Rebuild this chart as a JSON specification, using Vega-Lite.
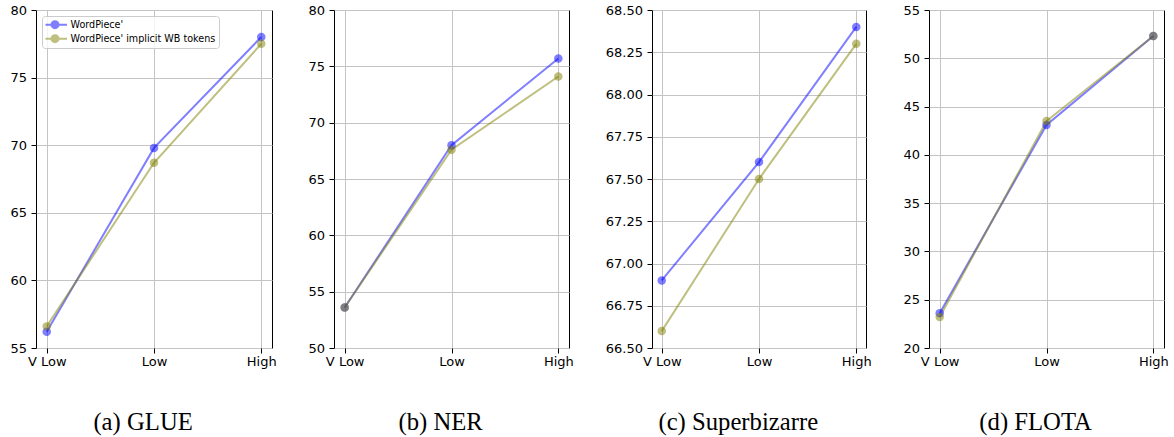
{
 "$schema": "https://vega.github.io/schema/vega-lite/v6.json",
 "padding": {"left": 9, "top": 3, "right": 0, "bottom": 0},
 "background": "white",
 "data": {"values": [
  {"panel": "GLUE", "level": "V Low", "series": "WordPiece'", "value": 56.2},
  {"panel": "GLUE", "level": "Low", "series": "WordPiece'", "value": 69.8},
  {"panel": "GLUE", "level": "High", "series": "WordPiece'", "value": 78.0},
  {"panel": "GLUE", "level": "V Low", "series": "WordPiece' implicit WB tokens", "value": 56.6},
  {"panel": "GLUE", "level": "Low", "series": "WordPiece' implicit WB tokens", "value": 68.7},
  {"panel": "GLUE", "level": "High", "series": "WordPiece' implicit WB tokens", "value": 77.5},
  {"panel": "NER", "level": "V Low", "series": "WordPiece'", "value": 53.6},
  {"panel": "NER", "level": "Low", "series": "WordPiece'", "value": 68.0},
  {"panel": "NER", "level": "High", "series": "WordPiece'", "value": 75.7},
  {"panel": "NER", "level": "V Low", "series": "WordPiece' implicit WB tokens", "value": 53.6},
  {"panel": "NER", "level": "Low", "series": "WordPiece' implicit WB tokens", "value": 67.6},
  {"panel": "NER", "level": "High", "series": "WordPiece' implicit WB tokens", "value": 74.1},
  {"panel": "Superbizarre", "level": "V Low", "series": "WordPiece'", "value": 66.9},
  {"panel": "Superbizarre", "level": "Low", "series": "WordPiece'", "value": 67.6},
  {"panel": "Superbizarre", "level": "High", "series": "WordPiece'", "value": 68.4},
  {"panel": "Superbizarre", "level": "V Low", "series": "WordPiece' implicit WB tokens", "value": 66.6},
  {"panel": "Superbizarre", "level": "Low", "series": "WordPiece' implicit WB tokens", "value": 67.5},
  {"panel": "Superbizarre", "level": "High", "series": "WordPiece' implicit WB tokens", "value": 68.3},
  {"panel": "FLOTA", "level": "V Low", "series": "WordPiece'", "value": 23.6},
  {"panel": "FLOTA", "level": "Low", "series": "WordPiece'", "value": 43.1},
  {"panel": "FLOTA", "level": "High", "series": "WordPiece'", "value": 52.3},
  {"panel": "FLOTA", "level": "V Low", "series": "WordPiece' implicit WB tokens", "value": 23.2},
  {"panel": "FLOTA", "level": "Low", "series": "WordPiece' implicit WB tokens", "value": 43.5},
  {"panel": "FLOTA", "level": "High", "series": "WordPiece' implicit WB tokens", "value": 52.3}
 ]},
 "spacing": 30,
 "hconcat": [
  {
   "width": 236, "height": 338,
   "title": {"text": "(a) GLUE"},
   "transform": [{"filter": "datum.panel === 'GLUE'"}],
   "encoding": {
    "x": {"field": "level", "type": "ordinal", "sort": ["V Low", "Low", "High"], "scale": {"type": "point", "padding": 0.1}, "axis": {"title": null}},
    "y": {"field": "value", "type": "quantitative", "scale": {"domain": [55, 80], "zero": false, "nice": false}, "axis": {"title": null, "values": [55, 60, 65, 70, 75, 80]}},
    "color": {"field": "series", "type": "nominal", "scale": {"domain": ["WordPiece'", "WordPiece' implicit WB tokens"], "range": ["#0000ff", "#808000"]},
     "legend": {"title": null, "orient": "none", "legendX": 6, "legendY": 6, "symbolType": "M-1.78,0L3.55,0M0.11,0a0.78,0.78 0 1,0 1.56,0a0.78,0.78 0 1,0 -1.56,0M0.49,0a0.4,0.4 0 1,0 0.8,0a0.4,0.4 0 1,0 -0.8,0M0.82,0a0.07,0.07 0 1,0 0.14,0a0.07,0.07 0 1,0 -0.14,0", "symbolSize": 81, "symbolStrokeWidth": 2, "symbolOpacity": 0.5, "labelFont": "DejaVu Sans", "labelFontSize": 9.6, "labelColor": "black", "labelOffset": 14, "padding": 3.5, "rowPadding": 3, "clipHeight": 10.3, "strokeColor": "#cccccc", "fillColor": "rgba(255,255,255,0.8)", "cornerRadius": 3}}
   },
   "layer": [
    {"mark": {"type": "line", "strokeWidth": 2, "opacity": 0.5}},
    {"mark": {"type": "point", "filled": true, "size": 72, "opacity": 0.5}}
   ]
  },
  {
   "width": 235, "height": 338,
   "title": {"text": "(b) NER"},
   "transform": [{"filter": "datum.panel === 'NER'"}],
   "encoding": {
    "x": {"field": "level", "type": "ordinal", "sort": ["V Low", "Low", "High"], "scale": {"type": "point", "padding": 0.1}, "axis": {"title": null}},
    "y": {"field": "value", "type": "quantitative", "scale": {"domain": [50, 80], "zero": false, "nice": false}, "axis": {"title": null, "values": [50, 55, 60, 65, 70, 75, 80]}},
    "color": {"field": "series", "type": "nominal", "scale": {"domain": ["WordPiece'", "WordPiece' implicit WB tokens"], "range": ["#0000ff", "#808000"]},
     "legend": {"title": null, "orient": "none", "legendX": 6, "legendY": 6, "symbolType": "M-1.78,0L3.55,0M0.11,0a0.78,0.78 0 1,0 1.56,0a0.78,0.78 0 1,0 -1.56,0M0.49,0a0.4,0.4 0 1,0 0.8,0a0.4,0.4 0 1,0 -0.8,0M0.82,0a0.07,0.07 0 1,0 0.14,0a0.07,0.07 0 1,0 -0.14,0", "symbolSize": 81, "symbolStrokeWidth": 2, "symbolOpacity": 0.5, "labelFont": "DejaVu Sans", "labelFontSize": 9.6, "labelColor": "black", "labelOffset": 14, "padding": 3.5, "rowPadding": 3, "clipHeight": 10.3, "strokeColor": "#cccccc", "fillColor": "rgba(255,255,255,0.8)", "cornerRadius": 3}}
   },
   "layer": [
    {"mark": {"type": "line", "strokeWidth": 2, "opacity": 0.5}},
    {"mark": {"type": "point", "filled": true, "size": 72, "opacity": 0.5}}
   ]
  },
  {
   "width": 214, "height": 338,
   "title": {"text": "(c) Superbizarre"},
   "transform": [{"filter": "datum.panel === 'Superbizarre'"}],
   "encoding": {
    "x": {"field": "level", "type": "ordinal", "sort": ["V Low", "Low", "High"], "scale": {"type": "point", "padding": 0.1}, "axis": {"title": null}},
    "y": {"field": "value", "type": "quantitative", "scale": {"domain": [66.5, 68.5], "zero": false, "nice": false}, "axis": {"title": null, "format": ".2f", "values": [66.5, 66.75, 67, 67.25, 67.5, 67.75, 68, 68.25, 68.5]}},
    "color": {"field": "series", "type": "nominal", "scale": {"domain": ["WordPiece'", "WordPiece' implicit WB tokens"], "range": ["#0000ff", "#808000"]},
     "legend": {"title": null, "orient": "none", "legendX": 6, "legendY": 6, "symbolType": "M-1.78,0L3.55,0M0.11,0a0.78,0.78 0 1,0 1.56,0a0.78,0.78 0 1,0 -1.56,0M0.49,0a0.4,0.4 0 1,0 0.8,0a0.4,0.4 0 1,0 -0.8,0M0.82,0a0.07,0.07 0 1,0 0.14,0a0.07,0.07 0 1,0 -0.14,0", "symbolSize": 81, "symbolStrokeWidth": 2, "symbolOpacity": 0.5, "labelFont": "DejaVu Sans", "labelFontSize": 9.6, "labelColor": "black", "labelOffset": 14, "padding": 3.5, "rowPadding": 3, "clipHeight": 10.3, "strokeColor": "#cccccc", "fillColor": "rgba(255,255,255,0.8)", "cornerRadius": 3}}
   },
   "layer": [
    {"mark": {"type": "line", "strokeWidth": 2, "opacity": 0.5}},
    {"mark": {"type": "point", "filled": true, "size": 72, "opacity": 0.5}}
   ]
  },
  {
   "width": 235, "height": 338,
   "title": {"text": "(d) FLOTA"},
   "transform": [{"filter": "datum.panel === 'FLOTA'"}],
   "encoding": {
    "x": {"field": "level", "type": "ordinal", "sort": ["V Low", "Low", "High"], "scale": {"type": "point", "padding": 0.1}, "axis": {"title": null}},
    "y": {"field": "value", "type": "quantitative", "scale": {"domain": [20, 55], "zero": false, "nice": false}, "axis": {"title": null, "values": [20, 25, 30, 35, 40, 45, 50, 55]}},
    "color": {"field": "series", "type": "nominal", "scale": {"domain": ["WordPiece'", "WordPiece' implicit WB tokens"], "range": ["#0000ff", "#808000"]},
     "legend": {"title": null, "orient": "none", "legendX": 6, "legendY": 6, "symbolType": "M-1.78,0L3.55,0M0.11,0a0.78,0.78 0 1,0 1.56,0a0.78,0.78 0 1,0 -1.56,0M0.49,0a0.4,0.4 0 1,0 0.8,0a0.4,0.4 0 1,0 -0.8,0M0.82,0a0.07,0.07 0 1,0 0.14,0a0.07,0.07 0 1,0 -0.14,0", "symbolSize": 81, "symbolStrokeWidth": 2, "symbolOpacity": 0.5, "labelFont": "DejaVu Sans", "labelFontSize": 9.6, "labelColor": "black", "labelOffset": 14, "padding": 3.5, "rowPadding": 3, "clipHeight": 10.3, "strokeColor": "#cccccc", "fillColor": "rgba(255,255,255,0.8)", "cornerRadius": 3}}
   },
   "layer": [
    {"mark": {"type": "line", "strokeWidth": 2, "opacity": 0.5}},
    {"mark": {"type": "point", "filled": true, "size": 72, "opacity": 0.5}}
   ]
  }
 ],
 "resolve": {"scale": {"y": "independent", "color": "shared"}},
 "config": {
  "view": {"stroke": "black", "strokeWidth": 1},
  "axis": {"labelFont": "DejaVu Sans", "labelFontSize": 13, "labelColor": "black", "tickColor": "black", "tickSize": 5, "labelPadding": 4.5, "domain": false, "grid": true, "gridColor": "#c4c4c4", "gridWidth": 1},
  "axisX": {"labelAngle": 0, "labelPadding": 2, "grid": true},
  "title": {"font": "Liberation Serif", "fontSize": 24.7, "fontWeight": "normal", "color": "black", "orient": "bottom", "anchor": "middle", "frame": "bounds", "offset": 42}
 }
}
